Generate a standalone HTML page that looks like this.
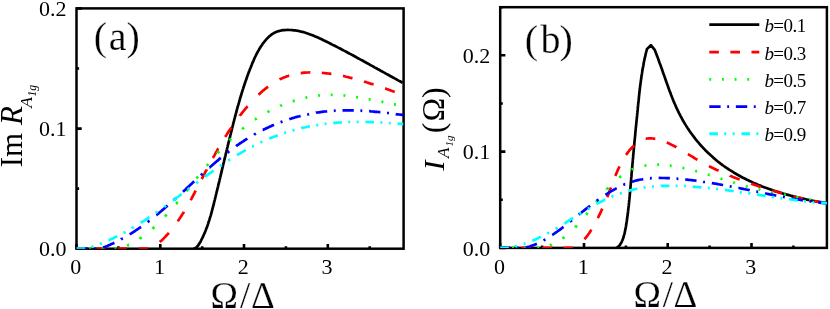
<!DOCTYPE html>
<html><head><meta charset="utf-8"><title>chart</title>
<style>html,body{margin:0;padding:0;background:#fff;}body{width:830px;height:309px;overflow:hidden;position:relative;font-family:"Liberation Serif",serif;}</style>
</head><body>
<svg width="830" height="309" viewBox="0 0 830 309" style="position:absolute;left:0;top:0;display:block;will-change:transform">
<rect width="830" height="309" fill="#fff"/>
<rect x="76.5" y="8.4" width="327.1" height="240.3" fill="none" stroke="#000" stroke-width="2.5"/>
<path d="M76.5 248.7 v-4.8 M118.4 248.7 v-2.4 M160.3 248.7 v-4.8 M202.2 248.7 v-2.4 M244.0 248.7 v-4.8 M285.9 248.7 v-2.4 M327.8 248.7 v-4.8 M369.7 248.7 v-2.4 M76.5 248.7 h5.2 M76.5 128.6 h5.2 M76.5 8.4 h5.2 M76.5 188.6 h2.6 M76.5 68.5 h2.6 " stroke="#000" stroke-width="2.6" fill="none"/>

<rect x="500.2" y="7.2" width="326.7" height="240.7" fill="none" stroke="#000" stroke-width="2.5"/>
<path d="M500.2 247.9 v-4.8 M542.1 247.9 v-2.4 M584.0 247.9 v-4.8 M625.9 247.9 v-2.4 M667.7 247.9 v-4.8 M709.6 247.9 v-2.4 M751.5 247.9 v-4.8 M793.4 247.9 v-2.4 M500.2 247.9 h5.2 M500.2 151.6 h5.2 M500.2 55.3 h5.2 M500.2 199.8 h2.6 M500.2 103.5 h2.6 M500.2 7.2 h2.6 " stroke="#000" stroke-width="2.6" fill="none"/>

<clipPath id="ca"><rect x="76.5" y="8.4" width="327.1" height="240.3"/></clipPath>
<g clip-path="url(#ca)">
<path d="M193.5 248.7 L194.8 248.5 196.0 247.7 197.1 246.7 198.0 245.6 198.9 244.4 199.6 243.1 200.4 241.9 201.1 240.5 201.7 239.2 202.4 237.9 203.0 236.6 203.6 235.2 204.2 233.9 204.8 232.5 205.4 231.1 205.9 229.8 206.4 228.4 207.0 227.0 207.5 225.6 208.0 224.1 208.4 222.7 208.9 221.3 209.4 219.9 209.8 218.4 210.2 217.0 210.7 215.6 211.1 214.1 211.5 212.6 211.9 211.2 212.3 209.7 212.6 208.3 213.0 206.8 213.4 205.3 213.8 203.9 214.1 202.4 214.5 200.9 214.9 199.5 215.2 198.0 215.6 196.5 215.9 195.1 216.3 193.6 216.6 192.1 217.0 190.7 217.4 189.2 217.7 187.8 218.1 186.3 218.4 184.8 218.8 183.4 219.1 181.9 219.5 180.5 219.8 179.0 220.2 177.6 220.5 176.1 220.9 174.7 221.2 173.2 221.6 171.7 221.9 170.3 222.2 168.8 222.6 167.4 222.9 165.9 223.3 164.5 223.6 163.0 224.0 161.6 224.3 160.1 224.7 158.7 225.0 157.2 225.4 155.8 225.7 154.3 226.1 152.9 226.4 151.4 226.8 150.0 227.1 148.5 227.5 147.1 227.8 145.6 228.2 144.2 228.5 142.7 228.9 141.3 229.3 139.8 229.6 138.4 230.0 136.9 230.3 135.5 230.7 134.0 231.0 132.6 231.4 131.1 231.8 129.6 232.1 128.2 232.5 126.7 232.9 125.3 233.2 123.8 233.6 122.4 234.0 120.9 234.3 119.5 234.7 118.0 235.1 116.6 235.5 115.1 235.9 113.6 236.3 112.2 236.7 110.7 237.0 109.3 237.4 107.8 237.8 106.4 238.3 104.9 238.7 103.5 239.1 102.1 239.5 100.6 239.9 99.2 240.3 97.7 240.8 96.3 241.2 94.8 241.6 93.4 242.1 92.0 242.5 90.5 243.0 89.1 243.4 87.7 243.9 86.3 244.4 84.8 244.8 83.4 245.3 82.0 245.8 80.6 246.3 79.2 246.8 77.8 247.3 76.3 247.8 74.9 248.3 73.5 248.8 72.1 249.4 70.7 249.9 69.3 250.5 68.0 251.0 66.6 251.6 65.2 252.1 63.8 252.7 62.4 253.3 61.1 253.9 59.7 254.5 58.3 255.1 57.0 255.8 55.6 256.4 54.3 257.1 53.0 257.8 51.7 258.6 50.3 259.3 49.0 260.1 47.7 260.9 46.5 261.8 45.2 262.6 43.9 263.6 42.7 264.5 41.5 265.5 40.3 266.5 39.2 267.5 38.1 268.6 37.0 269.7 36.0 270.9 35.1 272.1 34.2 273.4 33.4 274.6 32.7 276.0 32.1 277.4 31.6 278.8 31.1 280.2 30.7 281.7 30.4 283.2 30.2 284.7 30.1 286.2 30.0 287.8 29.9 289.3 30.0 290.8 30.0 292.3 30.1 293.8 30.3 295.3 30.4 296.7 30.7 298.2 30.9 299.6 31.2 301.1 31.6 302.5 31.9 304.0 32.3 305.4 32.7 306.8 33.2 308.2 33.7 309.6 34.2 311.0 34.7 312.4 35.2 313.8 35.8 315.2 36.4 316.6 37.0 318.0 37.6 319.3 38.2 320.7 38.8 322.1 39.5 323.4 40.2 324.8 40.8 326.1 41.5 327.5 42.1 328.8 42.8 330.2 43.5 331.5 44.2 332.9 44.9 334.2 45.5 335.6 46.2 336.9 46.9 338.2 47.6 339.6 48.3 340.9 49.0 342.2 49.7 343.5 50.4 344.9 51.1 346.2 51.8 347.5 52.5 348.8 53.2 350.1 53.9 351.5 54.6 352.8 55.3 354.1 56.0 355.4 56.7 356.7 57.5 358.0 58.2 359.3 58.9 360.6 59.6 362.0 60.3 363.3 61.0 364.6 61.8 365.9 62.5 367.2 63.2 368.5 63.9 369.8 64.7 371.1 65.4 372.4 66.1 373.7 66.8 375.0 67.6 376.3 68.3 377.6 69.0 379.0 69.7 380.3 70.5 381.6 71.2 382.9 71.9 384.2 72.6 385.5 73.4 386.8 74.1 388.1 74.8 389.4 75.5 390.7 76.3 392.1 77.0 393.4 77.7 394.7 78.4 396.0 79.1 397.3 79.9 398.6 80.6 400.0 81.3 401.3 82.0 402.6 82.7" fill="none" stroke="#000" stroke-width="2.7" stroke-linejoin="round"/>
<path d="M76.5 248.7 L77.0 248.7 78.5 248.7 80.0 248.7 81.5 248.7 83.0 248.7 84.5 248.7 84.9 248.7 M96.4 248.7 L96.5 248.7 98.0 248.7 99.5 248.7 101.0 248.7 102.5 248.7 104.0 248.7 105.5 248.7 106.0 248.7 M117.5 248.7 L118.0 248.7 119.5 248.7 121.0 248.7 122.5 248.7 124.0 248.7 125.5 248.7 127.0 248.7 127.1 248.7 M138.6 248.7 L139.0 248.7 140.5 248.7 142.0 248.7 143.5 248.7 145.0 248.7 146.5 248.7 148.0 248.7 148.2 248.7 M159.7 242.1 L159.7 242.1 160.8 241.1 161.9 240.2 163.0 239.2 164.0 238.1 165.0 237.1 166.0 236.0 167.0 234.9 168.0 233.8 168.9 232.8 M177.7 221.3 L178.0 220.9 178.8 219.7 179.6 218.5 180.5 217.2 181.3 216.0 182.1 214.7 182.9 213.4 183.7 212.2 183.9 211.7 M190.6 200.2 L190.7 200.0 191.5 198.6 192.2 197.3 192.9 196.0 193.6 194.6 194.3 193.3 195.0 191.9 195.7 190.6 M201.7 179.1 L201.8 178.9 202.5 177.6 203.2 176.3 203.9 174.9 204.6 173.6 205.3 172.2 206.0 170.9 206.7 169.6 206.7 169.5 M212.9 158.0 L213.1 157.7 213.8 156.4 214.6 155.1 215.3 153.7 216.0 152.4 216.8 151.1 217.5 149.8 218.2 148.5 218.3 148.4 M225.2 136.9 L225.4 136.6 226.2 135.4 227.0 134.1 227.8 132.8 228.6 131.6 229.4 130.3 230.3 129.1 231.1 127.9 231.4 127.3 M239.8 115.8 L239.8 115.7 240.8 114.6 241.7 113.4 242.6 112.2 243.6 111.0 244.5 109.9 245.5 108.7 246.5 107.6 247.4 106.4 247.6 106.2 M258.5 94.8 L258.6 94.7 259.7 93.6 260.9 92.6 262.0 91.6 263.1 90.6 264.3 89.7 265.4 88.7 266.6 87.8 267.8 86.9 268.1 86.7 M279.6 79.5 L279.9 79.3 281.2 78.7 282.6 78.1 283.9 77.5 285.3 77.0 286.6 76.4 288.0 76.0 289.2 75.6 M300.7 73.1 L300.9 73.1 302.4 72.9 303.9 72.7 305.4 72.6 306.9 72.5 308.4 72.5 309.9 72.4 310.3 72.4 M321.8 72.8 L322.0 72.8 323.6 73.0 325.1 73.1 326.6 73.3 328.1 73.5 329.6 73.7 331.1 73.9 331.4 73.9 M342.9 76.0 L343.0 76.0 344.5 76.3 346.0 76.7 347.4 77.0 348.9 77.4 350.4 77.7 351.8 78.1 352.5 78.3 M364.0 81.5 L364.3 81.6 365.8 82.0 367.2 82.5 368.6 82.9 370.0 83.4 371.5 83.9 372.9 84.3 373.6 84.5 M385.1 88.5 L385.2 88.5 386.6 89.0 388.0 89.5 389.4 90.0 390.8 90.5 392.2 91.0 393.6 91.5 394.7 91.9" fill="none" stroke="#f00" stroke-width="2.7" stroke-linejoin="round"/>
<path d="M76.5 248.7 L77.0 248.7 78.4 248.7 M89.2 248.7 L89.5 248.7 91.0 248.7 91.1 248.7 M101.8 248.7 L102.0 248.7 103.5 248.7 103.7 248.7 M114.5 248.7 L114.5 248.7 116.0 248.7 116.4 248.7 M127.1 245.7 L127.5 245.5 128.9 244.9 129.0 244.9 M139.8 238.7 L139.8 238.6 141.0 237.8 141.7 237.3 M152.5 228.7 L152.6 228.6 153.8 227.6 154.4 227.0 M164.9 216.5 L165.2 216.2 166.2 215.1 166.7 214.6 M176.0 203.8 L176.3 203.6 177.2 202.4 177.6 201.9 M186.4 191.2 L186.6 190.9 187.5 189.7 187.9 189.3 M196.5 178.5 L196.7 178.2 197.6 177.0 198.0 176.6 M206.7 165.8 L206.8 165.7 207.8 164.5 208.2 163.9 M217.5 153.2 L217.5 153.1 218.5 152.0 219.2 151.3 M229.5 140.5 L229.5 140.5 230.5 139.5 231.4 138.7 M242.1 129.1 L242.3 128.9 243.5 128.0 244.0 127.6 M254.8 119.7 L255.1 119.5 256.3 118.7 256.7 118.4 M267.4 112.0 L267.9 111.8 269.2 111.1 269.3 111.0 M280.1 105.9 L280.4 105.7 281.8 105.2 282.0 105.1 M292.8 101.1 L292.9 101.1 294.4 100.6 294.7 100.5 M305.4 97.7 L305.9 97.6 307.3 97.3 307.3 97.3 M318.1 95.7 L318.1 95.7 319.6 95.5 320.0 95.5 M330.7 94.9 L331.0 94.9 332.5 94.9 332.6 94.9 M343.4 95.5 L343.5 95.5 345.0 95.6 345.3 95.7 M356.1 97.1 L356.1 97.1 357.6 97.3 358.0 97.4 M368.7 99.3 L369.1 99.3 370.6 99.6 370.6 99.6 M381.4 101.8 L381.6 101.8 383.0 102.1 383.3 102.2 M394.0 104.3 L394.3 104.3 395.8 104.6 395.9 104.6" fill="none" stroke="#0f0" stroke-width="2.7" stroke-linejoin="round"/>
<path d="M76.5 248.7 L77.0 248.7 78.5 248.7 80.0 248.7 81.5 248.7 83.0 248.7 84.5 248.7 86.0 248.7 87.5 248.7 87.8 248.7 M94.4 248.7 L94.5 248.7 96.0 248.7 96.3 248.7 M103.1 247.6 L103.3 247.5 104.6 247.0 106.0 246.4 107.4 245.9 108.7 245.3 110.1 244.7 111.4 244.1 112.8 243.5 114.1 242.9 114.4 242.8 M121.0 239.4 L121.1 239.3 122.4 238.6 122.9 238.4 M129.7 234.4 L130.0 234.2 131.3 233.4 132.5 232.6 133.7 231.8 135.0 231.0 136.2 230.2 137.4 229.4 138.7 228.5 139.9 227.7 141.0 226.9 M147.6 222.1 L147.9 221.9 149.0 220.9 149.5 220.6 M156.3 215.2 L156.5 215.1 157.6 214.1 158.8 213.1 159.9 212.2 161.1 211.2 162.2 210.2 163.4 209.3 164.5 208.3 165.7 207.3 166.8 206.3 167.6 205.6 M174.2 199.7 L174.3 199.6 175.5 198.6 176.1 198.0 M182.9 191.8 L183.0 191.7 184.1 190.7 185.2 189.7 186.3 188.6 187.4 187.6 188.6 186.6 189.7 185.5 190.8 184.5 191.9 183.5 193.0 182.4 194.2 181.4 194.2 181.4 M200.8 175.3 L200.9 175.2 202.0 174.2 202.7 173.6 M209.5 167.5 L209.6 167.5 210.7 166.5 211.9 165.5 213.0 164.5 214.2 163.5 215.3 162.5 216.5 161.5 217.6 160.6 218.8 159.6 219.9 158.6 220.8 157.9 M227.4 152.6 L227.8 152.4 229.0 151.4 229.3 151.2 M236.1 146.2 L236.2 146.1 237.4 145.2 238.6 144.4 239.8 143.5 241.1 142.7 242.3 141.9 243.6 141.1 244.8 140.2 246.1 139.4 247.3 138.7 247.4 138.6 M254.0 134.7 L254.1 134.6 255.4 133.9 255.9 133.6 M262.7 130.0 L262.9 130.0 264.2 129.3 265.5 128.7 266.8 128.0 268.2 127.4 269.5 126.8 270.9 126.2 272.2 125.6 273.6 125.0 274.0 124.8 M280.6 122.2 L280.9 122.1 282.3 121.6 282.5 121.5 M289.3 119.2 L289.8 119.0 291.2 118.6 292.6 118.1 294.0 117.7 295.4 117.3 296.8 116.9 298.3 116.5 299.7 116.2 300.6 115.9 M307.2 114.4 L307.4 114.4 308.8 114.1 309.1 114.0 M315.9 112.8 L316.1 112.7 317.6 112.5 319.0 112.3 320.5 112.1 322.0 111.9 323.4 111.7 324.9 111.5 326.4 111.4 327.2 111.3 M333.8 110.8 L333.8 110.8 335.3 110.7 335.7 110.7 M342.5 110.4 L342.8 110.4 344.3 110.4 345.8 110.4 347.3 110.4 348.8 110.4 350.3 110.4 351.8 110.4 353.3 110.4 353.8 110.4 M360.4 110.7 L360.8 110.7 362.3 110.8 362.3 110.8 M369.1 111.2 L369.3 111.2 370.9 111.4 372.4 111.5 373.9 111.6 375.4 111.8 376.9 111.9 378.4 112.0 379.9 112.2 380.4 112.2 M387.0 113.0 L387.5 113.0 388.9 113.2 M395.7 114.0 L396.0 114.1 397.5 114.3 399.0 114.5 400.5 114.7 402.0 114.9 403.5 115.1" fill="none" stroke="#00f" stroke-width="2.7" stroke-linejoin="round"/>
<path d="M76.5 248.7 L77.0 248.7 78.5 248.7 80.0 248.7 81.5 248.7 83.0 248.7 84.5 248.7 85.2 248.7 M91.5 247.0 L91.7 246.9 93.1 246.4 93.4 246.3 M99.9 244.0 L100.1 243.9 101.5 243.3 101.8 243.2 M108.6 240.3 L108.7 240.3 110.1 239.6 111.4 239.0 112.8 238.4 114.1 237.8 115.4 237.1 116.8 236.4 117.3 236.2 M123.6 232.9 L123.8 232.8 125.1 232.1 125.5 231.9 M132.0 228.2 L132.0 228.1 133.3 227.4 133.9 227.0 M140.7 222.9 L141.0 222.7 142.2 221.9 143.5 221.1 144.8 220.3 146.0 219.4 147.3 218.6 148.5 217.8 149.4 217.2 M155.7 212.9 L156.0 212.7 157.3 211.8 157.6 211.6 M164.1 207.0 L164.3 206.8 165.5 206.0 166.0 205.6 M172.8 200.6 L172.8 200.6 174.1 199.7 175.3 198.8 176.5 197.9 177.7 197.0 179.0 196.1 180.2 195.2 181.4 194.2 181.5 194.2 M187.8 189.5 L187.9 189.4 189.1 188.5 189.7 188.0 M196.2 183.2 L196.4 183.0 197.7 182.1 198.1 181.8 M204.9 176.8 L205.0 176.7 206.2 175.8 207.5 174.9 208.7 174.1 209.9 173.2 211.2 172.3 212.4 171.4 213.6 170.6 M219.9 166.2 L220.2 166.0 221.5 165.1 221.8 164.9 M228.3 160.6 L228.6 160.4 229.8 159.6 230.2 159.4 M237.0 155.1 L237.0 155.1 238.3 154.3 239.6 153.6 240.9 152.8 242.2 152.1 243.5 151.3 244.7 150.6 245.7 150.0 M252.0 146.6 L252.1 146.6 253.5 145.9 253.9 145.7 M260.4 142.5 L260.5 142.4 261.9 141.8 262.3 141.6 M269.1 138.6 L269.1 138.6 270.5 138.1 271.8 137.5 273.2 137.0 274.6 136.4 276.0 135.9 277.4 135.4 277.8 135.2 M284.1 133.0 L284.3 133.0 285.7 132.5 286.0 132.4 M292.5 130.5 L292.8 130.4 294.2 130.0 294.4 129.9 M301.2 128.2 L301.4 128.1 302.8 127.8 304.3 127.5 305.7 127.2 307.2 126.8 308.6 126.5 309.9 126.3 M316.2 125.1 L316.4 125.1 317.9 124.9 318.1 124.8 M324.6 123.9 L324.8 123.9 326.2 123.7 326.5 123.7 M333.3 123.0 L333.6 122.9 335.1 122.8 336.6 122.7 338.1 122.6 339.6 122.5 341.1 122.4 342.0 122.3 M348.3 122.1 L348.6 122.0 350.1 122.0 350.2 122.0 M356.7 121.9 L357.1 121.9 358.6 121.9 M365.4 121.9 L365.7 121.9 367.2 122.0 368.7 122.0 370.2 122.1 371.7 122.1 373.2 122.2 374.1 122.2 M380.4 122.5 L380.8 122.5 382.3 122.6 M388.8 123.0 L388.9 123.0 390.4 123.1 390.7 123.1 M397.5 123.6 L398.0 123.6 399.5 123.8 401.0 123.9 402.5 124.0 403.5 124.1" fill="none" stroke="#0ff" stroke-width="2.7" stroke-linejoin="round"/>
</g>

<clipPath id="cb"><rect x="500.2" y="7.2" width="326.7" height="240.7"/></clipPath>
<g clip-path="url(#cb)">
<path d="M616.2 247.9 L617.2 247.6 618.4 246.5 619.5 245.4 620.3 244.2 621.1 243.0 621.7 241.8 622.3 240.5 622.8 239.2 623.3 237.8 623.7 236.4 624.1 235.0 624.5 233.6 624.8 232.2 625.1 230.7 625.4 229.2 625.7 227.7 626.0 226.2 626.2 224.7 626.4 223.2 626.7 221.7 626.9 220.2 627.1 218.7 627.3 217.2 627.5 215.7 627.7 214.2 627.9 212.7 628.1 211.2 628.2 209.7 628.4 208.2 628.6 206.7 628.8 205.2 628.9 203.7 629.1 202.2 629.2 200.7 629.4 199.2 629.5 197.7 629.7 196.2 629.8 194.8 629.9 193.3 630.1 191.8 630.2 190.3 630.3 188.8 630.5 187.3 630.6 185.8 630.7 184.3 630.9 182.8 631.0 181.4 631.1 179.9 631.2 178.4 631.4 176.9 631.5 175.4 631.6 173.9 631.7 172.4 631.9 170.9 632.0 169.4 632.1 168.0 632.3 166.5 632.4 165.0 632.5 163.5 632.7 162.0 632.8 160.5 632.9 159.0 633.1 157.5 633.2 156.0 633.3 154.5 633.5 153.0 633.6 151.5 633.7 150.0 633.9 148.5 634.0 147.0 634.2 145.6 634.3 144.1 634.4 142.6 634.6 141.1 634.7 139.6 634.9 138.1 635.0 136.6 635.2 135.1 635.3 133.6 635.4 132.1 635.6 130.6 635.7 129.1 635.9 127.6 636.0 126.1 636.2 124.6 636.3 123.1 636.5 121.6 636.6 120.1 636.8 118.6 636.9 117.1 637.1 115.7 637.2 114.2 637.4 112.7 637.5 111.2 637.7 109.7 637.8 108.2 637.9 106.7 638.1 105.2 638.2 103.7 638.4 102.2 638.6 100.7 638.7 99.2 638.9 97.8 639.0 96.3 639.2 94.8 639.3 93.3 639.5 91.8 639.7 90.3 639.9 88.8 640.0 87.4 640.2 85.9 640.4 84.4 640.6 82.9 640.8 81.4 641.0 79.9 641.2 78.5 641.4 77.0 641.6 75.5 641.9 74.0 642.1 72.6 642.3 71.1 642.6 69.6 642.8 68.1 643.1 66.7 643.4 65.2 643.6 63.7 643.9 62.2 644.2 60.8 644.5 59.3 644.8 57.8 645.2 56.4 645.5 54.9 645.8 53.5 646.2 52.0 646.6 50.5 646.9 49.1 650.9 45.2 654.7 49.9 655.3 51.3 655.8 52.7 656.4 54.1 656.9 55.6 657.5 57.0 658.0 58.4 658.5 59.8 659.0 61.3 659.5 62.7 660.1 64.1 660.6 65.5 661.1 67.0 661.6 68.4 662.1 69.8 662.6 71.2 663.1 72.7 663.6 74.1 664.1 75.5 664.6 76.9 665.1 78.3 665.6 79.8 666.1 81.2 666.6 82.6 667.1 84.0 667.6 85.4 668.1 86.8 668.6 88.2 669.1 89.6 669.6 91.0 670.2 92.4 670.7 93.8 671.2 95.2 671.8 96.6 672.3 98.0 672.9 99.4 673.4 100.7 674.0 102.1 674.6 103.5 675.2 104.8 675.8 106.2 676.4 107.6 677.0 108.9 677.6 110.2 678.3 111.6 678.9 112.9 679.6 114.2 680.3 115.6 681.0 116.9 681.7 118.2 682.4 119.5 683.1 120.8 683.9 122.1 684.6 123.3 685.4 124.6 686.2 125.9 687.0 127.1 687.8 128.4 688.6 129.6 689.5 130.9 690.3 132.1 691.2 133.3 692.1 134.5 693.0 135.7 693.9 136.9 694.8 138.1 695.7 139.3 696.6 140.4 697.6 141.6 698.6 142.7 699.5 143.9 700.5 145.0 701.5 146.1 702.5 147.2 703.5 148.3 704.6 149.4 705.6 150.5 706.7 151.5 707.7 152.6 708.8 153.6 709.9 154.6 711.0 155.6 712.1 156.6 713.2 157.6 714.4 158.6 715.5 159.6 716.6 160.5 717.8 161.5 719.0 162.4 720.2 163.3 721.3 164.2 722.5 165.1 723.8 166.0 725.0 166.8 726.2 167.7 727.4 168.5 728.7 169.3 729.9 170.1 731.2 170.9 732.5 171.7 733.7 172.5 735.0 173.3 736.3 174.0 737.6 174.8 738.9 175.5 740.2 176.2 741.6 177.0 742.9 177.7 744.2 178.3 745.6 179.0 746.9 179.7 748.3 180.3 749.6 181.0 751.0 181.6 752.4 182.3 753.7 182.9 755.1 183.5 756.5 184.1 757.9 184.7 759.3 185.2 760.7 185.8 762.1 186.4 763.5 186.9 764.9 187.5 766.4 188.0 767.8 188.5 769.2 189.0 770.6 189.5 772.1 190.0 773.5 190.5 774.9 191.0 776.4 191.5 777.8 191.9 779.3 192.4 780.7 192.8 782.2 193.3 783.6 193.7 785.1 194.1 786.5 194.5 788.0 194.9 789.5 195.3 790.9 195.7 792.4 196.1 793.9 196.5 795.3 196.9 796.8 197.2 798.3 197.6 799.7 197.9 801.2 198.3 802.6 198.6 804.1 198.9 805.6 199.2 807.0 199.6 808.5 199.9 810.0 200.2 811.4 200.5 812.9 200.8 814.3 201.1 815.8 201.3 817.3 201.6 818.7 201.9 820.2 202.1 821.6 202.4 823.1 202.6 824.5 202.9 825.9 203.1" fill="none" stroke="#000" stroke-width="2.7" stroke-linejoin="round"/>
<path d="M500.2 247.9 L500.7 247.9 502.2 247.9 503.7 247.9 505.2 247.9 506.7 247.9 508.2 247.9 509.7 247.9 509.8 247.9 M521.3 247.9 L521.7 247.9 523.2 247.9 524.7 247.9 526.2 247.9 527.7 247.9 529.2 247.9 530.7 247.9 530.9 247.9 M542.4 247.9 L542.7 247.9 544.2 247.9 545.7 247.9 547.2 247.9 548.7 247.9 550.2 247.9 551.7 247.9 552.0 247.9 M563.5 247.9 L563.7 247.9 565.2 247.9 566.7 247.9 568.2 247.9 569.7 247.9 571.2 247.9 572.7 247.9 573.1 247.9 M584.4 239.3 L584.6 239.1 585.6 237.9 586.6 236.7 587.5 235.5 588.4 234.2 589.3 233.0 590.1 231.7 590.9 230.4 591.3 229.7 M597.8 218.2 L598.0 217.8 598.6 216.5 599.3 215.2 599.9 213.9 600.5 212.6 601.1 211.3 601.7 209.9 602.3 208.6 M607.2 197.1 L607.3 196.9 607.9 195.5 608.4 194.1 609.0 192.7 609.5 191.3 610.1 189.9 610.6 188.5 610.9 187.5 M615.3 176.0 L615.5 175.6 616.1 174.1 616.7 172.7 617.3 171.3 617.9 169.9 618.5 168.5 619.2 167.1 619.5 166.4 M626.0 154.9 L626.1 154.8 627.0 153.6 627.9 152.4 628.8 151.2 629.7 150.0 630.7 148.9 631.7 147.8 632.8 146.8 633.9 145.7 634.2 145.4 M645.7 138.8 L645.9 138.8 647.2 138.5 648.6 138.4 650.0 138.3 651.4 138.4 652.8 138.5 654.2 138.7 655.3 138.8 M666.8 142.5 L666.8 142.5 668.2 143.1 669.6 143.8 670.9 144.4 672.3 145.1 673.6 145.8 675.0 146.5 676.3 147.2 676.4 147.3 M687.9 154.1 L688.3 154.3 689.6 155.1 690.9 155.9 692.3 156.7 693.6 157.5 694.9 158.3 696.2 159.1 697.5 159.8 M709.0 166.1 L709.0 166.1 710.3 166.8 711.7 167.5 713.0 168.1 714.4 168.8 715.7 169.4 717.0 170.0 718.4 170.6 718.6 170.7 M730.1 175.7 L730.1 175.8 731.5 176.3 732.8 176.9 734.2 177.4 735.6 178.0 737.0 178.5 738.3 179.0 739.7 179.5 M751.2 183.7 L751.4 183.8 752.8 184.3 754.2 184.8 755.6 185.3 757.1 185.8 758.5 186.2 759.9 186.7 760.8 187.0 M772.3 190.6 L772.4 190.6 773.8 191.0 775.3 191.4 776.7 191.8 778.2 192.3 779.6 192.7 781.1 193.1 781.9 193.3 M793.4 196.3 L793.7 196.4 795.2 196.7 796.6 197.1 798.1 197.4 799.6 197.8 801.0 198.1 802.5 198.4 803.0 198.6 M814.5 201.0 L814.7 201.0 816.2 201.3 817.6 201.6 819.1 201.9 820.6 202.2 822.0 202.4 823.5 202.7 824.1 202.8" fill="none" stroke="#f00" stroke-width="2.7" stroke-linejoin="round"/>
<path d="M500.2 247.9 L500.7 247.9 501.2 247.9 M512.0 247.9 L512.2 247.9 513.7 247.9 513.9 247.9 M524.6 247.9 L524.7 247.9 526.2 247.9 526.5 247.9 M537.3 247.9 L537.7 247.9 539.2 247.9 M549.9 245.3 L550.3 245.1 551.7 244.6 551.8 244.5 M562.6 238.5 L562.7 238.4 563.8 237.6 564.5 237.1 M575.2 227.5 L575.3 227.3 576.3 226.3 577.0 225.6 M586.1 214.8 L586.4 214.5 587.3 213.3 587.6 212.9 M596.1 202.1 L596.3 201.9 597.3 200.6 597.6 200.2 M606.8 189.5 L606.8 189.4 607.9 188.2 608.5 187.6 M619.2 177.6 L619.6 177.3 620.7 176.4 621.1 176.1 M631.9 169.6 L631.9 169.5 633.2 169.0 633.8 168.7 M644.5 165.6 L645.0 165.6 646.4 165.3 646.4 165.3 M657.2 164.7 L657.4 164.7 658.8 164.7 659.1 164.7 M669.8 165.6 L670.0 165.6 671.5 165.8 671.7 165.8 M682.5 167.7 L682.8 167.8 684.2 168.1 684.4 168.1 M695.2 170.8 L695.4 170.9 696.9 171.3 697.1 171.3 M707.8 174.4 L708.1 174.5 709.6 175.0 709.7 175.0 M720.5 178.4 L720.7 178.5 722.2 179.0 722.4 179.0 M733.1 182.4 L733.4 182.5 734.8 182.9 735.0 183.0 M745.8 186.1 L746.0 186.2 747.4 186.6 747.7 186.7 M758.5 189.4 L758.6 189.4 760.1 189.7 760.4 189.8 M771.1 192.1 L771.2 192.2 772.7 192.5 773.0 192.5 M783.8 194.6 L783.9 194.7 785.4 194.9 785.7 195.0 M796.4 197.0 L796.6 197.1 798.0 197.3 798.3 197.4 M809.1 199.5 L809.3 199.5 810.7 199.8 811.0 199.9 M821.8 202.1 L822.0 202.2 823.5 202.5 823.7 202.6" fill="none" stroke="#0f0" stroke-width="2.7" stroke-linejoin="round"/>
<path d="M500.2 247.9 L500.7 247.9 502.2 247.9 503.7 247.9 505.2 247.9 506.7 247.9 508.2 247.9 509.7 247.9 510.3 247.9 M516.9 247.9 L517.2 247.9 518.7 247.9 518.8 247.9 M525.6 247.6 L526.0 247.5 527.4 247.1 528.8 246.7 530.2 246.3 531.6 245.8 533.0 245.3 534.4 244.8 535.8 244.2 536.9 243.7 M543.5 240.4 L543.7 240.3 544.9 239.6 545.4 239.3 M552.2 235.0 L552.4 234.9 553.7 234.0 554.9 233.2 556.1 232.3 557.3 231.5 558.5 230.6 559.7 229.8 560.9 228.9 562.1 228.0 563.2 227.1 563.5 226.9 M570.1 221.7 L570.3 221.6 571.4 220.6 572.0 220.2 M578.8 214.7 L578.9 214.6 580.1 213.7 581.3 212.7 582.4 211.8 583.6 210.8 584.8 209.9 586.0 208.9 587.2 208.0 588.5 207.0 589.7 206.1 590.1 205.8 M596.7 200.8 L596.7 200.8 598.0 199.9 598.6 199.5 M605.4 194.8 L605.7 194.6 607.1 193.8 608.4 192.9 609.7 192.1 611.0 191.3 612.4 190.6 613.7 189.8 615.0 189.1 616.4 188.3 616.7 188.2 M623.3 185.0 L623.7 184.8 625.0 184.2 625.2 184.2 M632.0 181.7 L632.5 181.6 633.9 181.2 635.3 180.8 636.7 180.4 638.1 180.1 639.5 179.8 640.9 179.5 642.4 179.3 643.3 179.1 M649.9 178.3 L650.0 178.3 651.4 178.2 651.8 178.2 M658.6 178.0 L658.7 178.0 660.1 177.9 661.6 178.0 663.1 178.0 664.5 178.0 666.0 178.1 667.4 178.1 668.9 178.2 669.9 178.2 M676.5 178.7 L676.7 178.7 678.2 178.8 678.4 178.8 M685.2 179.4 L685.6 179.5 687.1 179.6 688.5 179.8 690.0 180.0 691.5 180.1 693.0 180.3 694.5 180.5 695.9 180.7 696.5 180.8 M703.1 181.7 L703.4 181.8 704.9 182.0 705.0 182.0 M711.8 183.1 L712.3 183.2 713.8 183.4 715.3 183.7 716.8 183.9 718.2 184.2 719.7 184.5 721.2 184.7 722.7 185.0 723.1 185.1 M729.7 186.3 L730.2 186.4 731.6 186.7 M738.4 188.0 L738.6 188.0 740.1 188.3 741.6 188.6 743.1 188.9 744.6 189.2 746.1 189.5 747.6 189.8 749.1 190.1 749.7 190.3 M756.3 191.6 L756.5 191.6 758.0 192.0 758.2 192.0 M765.0 193.4 L765.5 193.5 767.0 193.8 768.5 194.1 769.9 194.4 771.4 194.6 772.9 194.9 774.4 195.2 775.9 195.5 776.3 195.6 M782.9 196.9 L783.3 196.9 784.8 197.2 784.8 197.2 M791.6 198.4 L791.7 198.4 793.2 198.7 794.7 199.0 796.1 199.2 797.6 199.5 799.1 199.7 800.6 199.9 802.0 200.2 802.9 200.3 M809.5 201.3 L809.9 201.3 811.3 201.5 811.4 201.5 M818.2 202.4 L818.6 202.4 820.1 202.6 821.6 202.8 823.0 202.9 824.5 203.1 825.9 203.2 826.9 203.3" fill="none" stroke="#00f" stroke-width="2.7" stroke-linejoin="round"/>
<path d="M500.2 247.9 L500.7 247.9 502.2 247.9 503.7 247.9 505.2 247.9 506.7 247.9 508.0 247.9 508.9 247.8 M515.2 246.5 L515.3 246.4 516.7 246.1 517.1 246.0 M523.6 244.0 L523.8 244.0 525.2 243.5 525.5 243.4 M532.3 240.8 L532.6 240.7 533.9 240.1 535.3 239.5 536.6 238.9 538.0 238.3 539.3 237.6 540.7 237.0 541.0 236.8 M547.3 233.5 L547.7 233.3 549.0 232.6 549.2 232.5 M555.7 228.8 L556.0 228.6 557.3 227.8 557.6 227.6 M564.4 223.5 L564.7 223.3 566.0 222.5 567.3 221.7 568.6 220.8 569.9 220.0 571.1 219.2 572.4 218.4 573.1 218.0 M579.4 214.0 L579.8 213.8 581.1 213.0 581.3 212.9 M587.8 208.9 L588.1 208.8 589.4 208.0 589.7 207.8 M596.5 204.0 L596.9 203.8 598.3 203.1 599.6 202.4 601.0 201.7 602.3 201.1 603.7 200.4 605.0 199.7 605.2 199.7 M611.5 196.9 L611.9 196.7 613.3 196.1 613.4 196.1 M619.9 193.6 L620.3 193.5 621.7 193.0 621.8 193.0 M628.6 190.9 L628.7 190.8 630.1 190.4 631.6 190.0 633.0 189.7 634.4 189.3 635.9 189.0 637.3 188.7 637.3 188.7 M643.6 187.6 L644.0 187.5 645.5 187.3 645.5 187.3 M652.0 186.5 L652.2 186.5 653.7 186.4 653.9 186.4 M660.7 186.0 L661.0 185.9 662.5 185.9 664.0 185.9 665.4 185.8 666.9 185.8 668.4 185.8 669.4 185.8 M675.7 185.9 L675.8 185.9 677.3 185.9 677.6 185.9 M684.1 186.2 L684.2 186.2 685.7 186.2 686.0 186.3 M692.8 186.7 L693.1 186.7 694.6 186.8 696.1 186.9 697.6 187.0 699.1 187.2 700.6 187.3 701.5 187.4 M707.8 188.0 L708.1 188.0 709.6 188.2 709.7 188.2 M716.2 188.9 L716.6 189.0 718.1 189.1 718.1 189.1 M724.9 190.0 L725.1 190.0 726.6 190.2 728.1 190.4 729.6 190.6 731.1 190.8 732.6 191.0 733.6 191.2 M739.9 192.0 L740.1 192.1 741.6 192.3 741.8 192.3 M748.3 193.3 L748.6 193.3 750.1 193.5 750.2 193.6 M757.0 194.6 L757.1 194.6 758.6 194.8 760.1 195.1 761.6 195.3 763.1 195.5 764.6 195.7 765.7 195.9 M772.0 196.8 L772.1 196.9 773.6 197.1 773.9 197.1 M780.4 198.1 L780.6 198.1 782.1 198.3 782.3 198.3 M789.1 199.3 L789.5 199.3 791.0 199.5 792.5 199.7 794.0 199.9 795.5 200.1 797.0 200.3 797.8 200.4 M804.1 201.2 L804.4 201.2 805.9 201.4 806.0 201.4 M812.5 202.1 L812.7 202.1 814.2 202.3 814.4 202.3 M821.2 202.9 L821.5 202.9 823.0 203.0 824.5 203.1 825.9 203.2 826.9 203.3" fill="none" stroke="#0ff" stroke-width="2.7" stroke-linejoin="round"/>
</g>

<g font-family="'Liberation Serif', serif" fill="#000">
<text x="75.7" y="274.3" font-size="22" text-anchor="middle">0</text>
<text x="499.4" y="273.6" font-size="22" text-anchor="middle">0</text>
<text x="159.5" y="274.3" font-size="22" text-anchor="middle">1</text>
<text x="583.2" y="273.6" font-size="22" text-anchor="middle">1</text>
<text x="243.2" y="274.3" font-size="22" text-anchor="middle">2</text>
<text x="666.9" y="273.6" font-size="22" text-anchor="middle">2</text>
<text x="327.0" y="274.3" font-size="22" text-anchor="middle">3</text>
<text x="750.7" y="273.6" font-size="22" text-anchor="middle">3</text>
<text x="66.6" y="256.3" font-size="22" text-anchor="end">0.0</text>
<text x="490.3" y="255.5" font-size="22" text-anchor="end">0.0</text>
<text x="66.6" y="136.2" font-size="22" text-anchor="end">0.1</text>
<text x="490.3" y="159.2" font-size="22" text-anchor="end">0.1</text>
<text x="66.6" y="16.0" font-size="22" text-anchor="end">0.2</text>
<text x="490.3" y="62.9" font-size="22" text-anchor="end">0.2</text>
<text x="210.6 240.0 251.0" y="307.6" font-size="37" stroke="#fff" stroke-width="0.25">Ω/Δ</text>
<text x="633.4 662.8 673.6" y="306.9" font-size="37" stroke="#fff" stroke-width="0.25">Ω/Δ</text>
<text x="93.7 108.8 126.4" y="50.2" font-size="40" stroke="#fff" stroke-width="0.25">(a)</text>
<text x="524.8 540.6 559.6" y="52.8" font-size="40" stroke="#fff" stroke-width="0.25">(b)</text>
<g transform="translate(22,167.3) rotate(-90)"><text x="0" y="0" font-size="31">Im</text><text x="42.4" y="0" font-size="31" font-style="italic">R</text><text x="59.6" y="9.5" font-size="17.5" font-style="italic">A</text><text x="70.7" y="14.2" font-size="11.5" font-style="italic">1g</text></g>
<g transform="translate(443.7,170.5) rotate(-90)"><text x="0" y="0" font-size="30" font-style="italic">I</text><text x="12.5" y="5.3" font-size="17" font-style="italic">A</text><text x="24" y="9.2" font-size="11" font-style="italic">1g</text><text x="37.3 48.9 72.6" y="0.3" font-size="32">(Ω)</text></g>
<path d="M709.3 24.60 H759.3" stroke="#000" stroke-width="2.9" fill="none"/>
<text x="764.4" y="32.2" font-size="19" textLength="41.8" lengthAdjust="spacing"><tspan font-style="italic">b</tspan>=0.1</text>
<path d="M709.3 52.10 H759.3" stroke="#f00" stroke-width="2.9" fill="none" stroke-dasharray="9.6 11.5"/>
<text x="764.4" y="59.7" font-size="19" textLength="41.8" lengthAdjust="spacing"><tspan font-style="italic">b</tspan>=0.3</text>
<path d="M709.3 79.40 H759.3" stroke="#0f0" stroke-width="2.9" fill="none" stroke-dasharray="1.9 10.76"/>
<text x="764.4" y="87.0" font-size="19" textLength="41.8" lengthAdjust="spacing"><tspan font-style="italic">b</tspan>=0.5</text>
<path d="M709.3 106.65 H759.3" stroke="#00f" stroke-width="2.9" fill="none" stroke-dasharray="11.3 6.6 1.9 6.8"/>
<text x="764.4" y="114.2" font-size="19" textLength="41.8" lengthAdjust="spacing"><tspan font-style="italic">b</tspan>=0.7</text>
<path d="M709.3 133.80 H759.3" stroke="#0ff" stroke-width="2.9" fill="none" stroke-dasharray="8.7 6.3 1.9 6.5 1.9 6.8"/>
<text x="764.4" y="141.4" font-size="19" textLength="41.8" lengthAdjust="spacing"><tspan font-style="italic">b</tspan>=0.9</text>
</g>

</svg>
</body></html>
